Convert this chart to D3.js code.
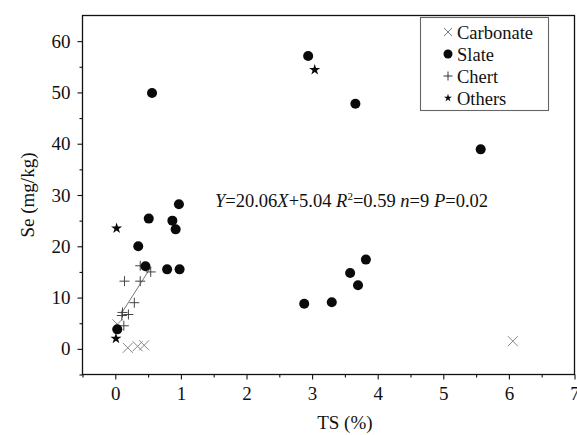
<!DOCTYPE html>
<html lang="en">
<head>
<meta charset="UTF-8">
<title>Se vs TS</title>
<script src="https://cdn.jsdelivr.net/npm/d3@7/dist/d3.min.js"></script>
<style>
  body { margin: 0; background: #fff; }
  svg text { font-family: "Liberation Serif", "DejaVu Serif", serif; fill: #111; }
</style>
</head>
<body>
<script>
// data: [TS %, Se mg/kg]
var carbonate = [[0.19, 0.2], [0.34, 0.5], [0.44, 0.7], [0.03, 4.8], [6.06, 1.5]];
var slate = [[0.56, 49.9], [2.94, 57.1], [3.66, 47.8], [5.57, 38.9],
             [2.88, 8.8], [3.30, 9.1], [3.58, 14.8], [3.70, 12.4], [3.82, 17.4],
             [0.97, 28.2], [0.51, 25.4], [0.87, 25.0], [0.92, 23.3], [0.35, 20.0],
             [0.46, 16.1], [0.79, 15.5], [0.98, 15.5], [0.03, 3.8]];
var chert = [[0.38, 16.2], [0.54, 15.0], [0.14, 13.2], [0.38, 13.2], [0.29, 9.0],
             [0.11, 7.1], [0.10, 6.5], [0.20, 6.7], [0.13, 4.5]];
var others = [[0.02, 23.5], [0.01, 2.0], [3.04, 54.4]];
var fitSlope = 20.06, fitIntercept = 5.04, fitRange = [0.095, 0.545];
var xTicks = [0, 1, 2, 3, 4, 5, 6, 7];
var yTicks = [0, 10, 20, 30, 40, 50, 60];
var legendNames = ["Carbonate", "Slate", "Chert", "Others"];

var width = 577, height = 435;
var margin = {left: 82.5, top: 15.5, right: 2.5, bottom: 60.5};
var serif = "'Liberation Serif', 'DejaVu Serif', serif";

var svg = d3.select("body").append("svg").attr("width", width).attr("height", height);

var x = d3.scaleLinear().domain([-0.5, 7]).range([margin.left, width - margin.right]);
var y = d3.scaleLinear().domain([-5, 65]).range([height - margin.bottom, margin.top]);

// frame
svg.append("rect")
    .attr("x", x.range()[0]).attr("y", y.range()[1])
    .attr("width", x.range()[1] - x.range()[0])
    .attr("height", y.range()[0] - y.range()[1])
    .attr("fill", "none").attr("stroke", "#111").attr("stroke-width", 1.3);

// axes
var xAxis = svg.append("g").attr("transform", "translate(0," + y.range()[0] + ")")
    .call(d3.axisBottom(x).tickValues(xTicks).tickSize(5).tickPadding(7).tickFormat(d3.format("d")));
var xMinor = svg.append("g").attr("transform", "translate(0," + y.range()[0] + ")")
    .call(d3.axisBottom(x).tickValues(d3.range(-0.5, 7, 1)).tickSize(3).tickFormat(""));
var yAxis = svg.append("g").attr("transform", "translate(" + x.range()[0] + ",0)")
    .call(d3.axisLeft(y).tickValues(yTicks).tickSize(5).tickPadding(7).tickFormat(d3.format("d")));
var yMinor = svg.append("g").attr("transform", "translate(" + x.range()[0] + ",0)")
    .call(d3.axisLeft(y).tickValues(d3.range(-5, 65, 10)).tickSize(3).tickFormat(""));

[xAxis, xMinor, yAxis, yMinor].forEach(function (g) {
    g.attr("font-family", serif);
    g.select(".domain").remove();
    g.selectAll("line").attr("stroke", "#111").attr("stroke-width", 1.1);
    g.selectAll("text").style("font-size", "19px").attr("fill", "#111").style("font-family", serif);
});

// axis titles
svg.append("text").attr("x", x(3.5)).attr("y", 429).attr("text-anchor", "middle")
    .style("font-size", "19px").style("font-family", serif).text("TS (%)");
svg.append("text").attr("transform", "translate(34," + y(30) + ") rotate(-90)")
    .attr("text-anchor", "middle").style("font-size", "19px").style("font-family", serif).text("Se (mg/kg)");

// regression line over chert points
svg.append("line")
    .attr("x1", x(fitRange[0])).attr("y1", y(fitSlope * fitRange[0] + fitIntercept))
    .attr("x2", x(fitRange[1])).attr("y2", y(fitSlope * fitRange[1] + fitIntercept))
    .attr("stroke", "#777").attr("stroke-width", 1);

// markers
function crossPath(s) {
    return "M" + (-s) + "," + (-s) + "L" + s + "," + s + "M" + (-s) + "," + s + "L" + s + "," + (-s);
}
function plusPath(s) {
    return "M" + (-s) + ",0L" + s + ",0M0," + (-s) + "L0," + s;
}

svg.append("g").selectAll("path").data(carbonate).enter().append("path")
    .attr("transform", function (d) { return "translate(" + x(d[0]) + "," + y(d[1]) + ")"; })
    .attr("d", crossPath(5)).attr("stroke", "#888").attr("stroke-width", 1).attr("fill", "none");

svg.append("g").selectAll("path").data(chert).enter().append("path")
    .attr("transform", function (d) { return "translate(" + x(d[0]) + "," + y(d[1]) + ")"; })
    .attr("d", plusPath(5)).attr("stroke", "#444").attr("stroke-width", 1).attr("fill", "none");

svg.append("g").selectAll("circle").data(slate).enter().append("circle")
    .attr("cx", function (d) { return x(d[0]); })
    .attr("cy", function (d) { return y(d[1]); })
    .attr("r", 5).attr("fill", "#0a0a0a");

svg.append("g").selectAll("path").data(others).enter().append("path")
    .attr("transform", function (d) { return "translate(" + x(d[0]) + "," + y(d[1]) + ")"; })
    .attr("d", d3.symbol().type(d3.symbolStar).size(38)).attr("fill", "#0a0a0a");

// equation
var eq = svg.append("text").attr("x", 215).attr("y", 207)
    .style("font-size", "18.5px").style("font-family", serif);
eq.append("tspan").style("font-style", "italic").text("Y");
eq.append("tspan").text("=20.06");
eq.append("tspan").style("font-style", "italic").text("X");
eq.append("tspan").text("+5.04 ");
eq.append("tspan").style("font-style", "italic").text("R");
eq.append("tspan").attr("dy", -7).style("font-size", "11px").text("2");
eq.append("tspan").attr("dy", 7).text("=0.59 ");
eq.append("tspan").style("font-style", "italic").text("n");
eq.append("tspan").text("=9 ");
eq.append("tspan").style("font-style", "italic").text("P");
eq.append("tspan").text("=0.02");

// legend
var legend = svg.append("g");
legend.append("rect").attr("x", 420.5).attr("y", 17.5).attr("width", 128).attr("height", 93)
    .attr("fill", "#fff").attr("stroke", "#666").attr("stroke-width", 1.1);
var rows = legend.selectAll("g").data(legendNames).enter().append("g")
    .attr("transform", function (d, i) { return "translate(448," + (32 + i * 22) + ")"; });
rows.append("text").attr("x", 9).attr("y", 6.5)
    .style("font-size", "18.5px").style("font-family", serif).text(function (d) { return d; });
rows.each(function (d, i) {
    var g = d3.select(this);
    if (i === 0) g.append("path").attr("d", crossPath(4)).attr("stroke", "#777").attr("fill", "none");
    if (i === 1) g.append("circle").attr("r", 4.5).attr("fill", "#0a0a0a");
    if (i === 2) g.append("path").attr("d", plusPath(4.5)).attr("stroke", "#333").attr("fill", "none");
    if (i === 3) g.append("path").attr("d", d3.symbol().type(d3.symbolStar).size(20)).attr("fill", "#0a0a0a");
});
</script>
</body>
</html>
